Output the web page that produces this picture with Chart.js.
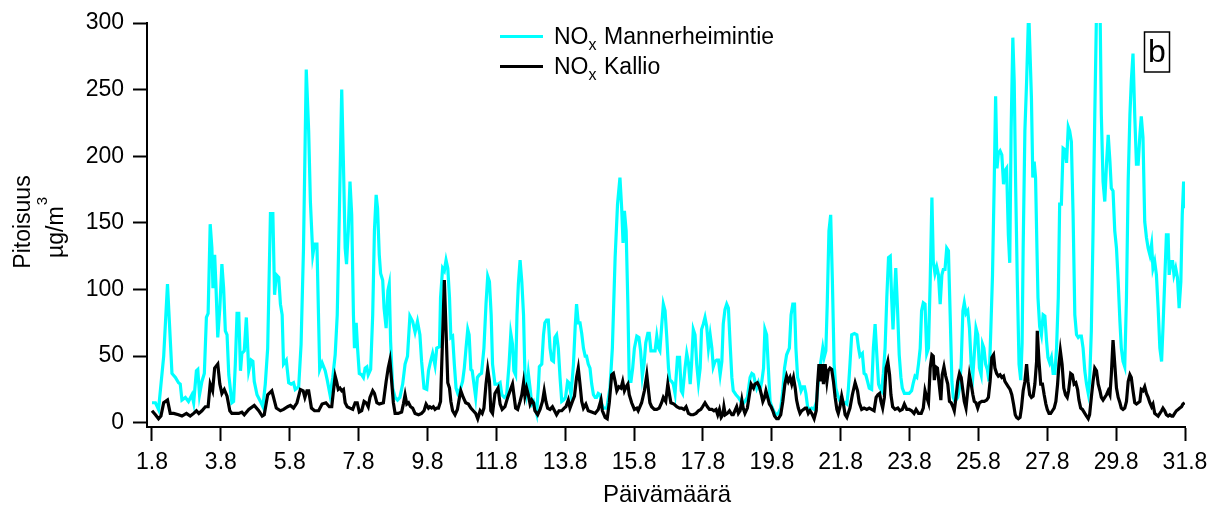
<!DOCTYPE html>
<html>
<head>
<meta charset="utf-8">
<title>NOx Mannerheimintie / Kallio</title>
<script src="https://cdn.jsdelivr.net/npm/chart.js@4.4.1/dist/chart.umd.min.js"></script>
<style>
  html, body { margin: 0; padding: 0; background: #fff; }
  canvas { display: block; }
</style>
</head>
<body>
<canvas id="noxChart" width="1216" height="507"></canvas>
<script>
// ticks
const tickDays = [1.8, 3.8, 5.8, 7.8, 9.8, 11.8, 13.8, 15.8, 17.8, 19.8, 21.8, 23.8, 25.8, 27.8, 29.8, 31.8];
const yTicks = [0, 50, 100, 150, 200, 250, 300];

const seriesNames = ['Mannerheimintie', 'Kallio'];
const xTitle = 'Päivämäärä';
const yTitle = 'Pitoisuus';
const yUnit = 'µg/m';
const panelLabel = 'b';

// [day, µg/m3]
const mannerheimintie = [
  [1.80,15],[1.90,15],[1.99,10],[2.14,50],[2.25,104],[2.38,37],[2.48,34],[2.57,30],[2.62,29],[2.67,17],[2.77,19],[2.86,16],[2.96,21],[3.01,15],[3.09,39],[3.13,40],[3.18,21],[3.25,31],[3.32,37],[3.38,79],[3.43,82],[3.49,149],[3.54,131],[3.57,101],[3.62,126],[3.66,101],[3.71,64],[3.77,86],[3.83,119],[3.88,101],[3.93,69],[3.98,66],[4.03,36],[4.12,15],[4.17,16],[4.22,44],[4.27,82],[4.32,82],[4.37,39],[4.41,52],[4.48,54],[4.54,79],[4.61,39],[4.68,47],[4.73,46],[4.77,31],[4.85,21],[4.95,16],[5.02,12],[5.09,29],[5.16,56],[5.24,157],[5.31,157],[5.36,96],[5.41,111],[5.48,109],[5.53,89],[5.58,81],[5.62,44],[5.70,47],[5.77,30],[5.84,29],[5.91,30],[5.96,25],[6.06,27],[6.13,59],[6.20,131],[6.28,265],[6.35,219],[6.40,166],[6.47,126],[6.52,134],[6.59,134],[6.62,99],[6.67,40],[6.74,45],
  [6.83,39],[6.89,32],[6.97,21],[7.05,34],[7.12,51],[7.18,81],[7.24,156],[7.31,250],[7.36,194],[7.41,131],[7.45,119],[7.50,144],[7.55,181],[7.60,156],[7.65,81],[7.68,56],[7.73,75],[7.77,56],[7.82,37],[7.89,36],[7.94,34],[7.99,41],[8.04,42],[8.08,36],[8.15,40],[8.21,81],[8.26,144],[8.31,171],[8.35,161],[8.40,126],[8.44,112],[8.50,107],[8.54,86],[8.60,71],[8.65,99],[8.69,104],[8.73,61],[8.79,26],[8.86,19],[8.93,17],[9.00,19],[9.08,29],[9.15,44],[9.22,50],[9.29,80],[9.37,76],[9.44,68],[9.51,76],[9.58,66],[9.63,46],[9.70,26],[9.78,25],[9.83,39],[9.89,46],[9.95,52],[10.02,43],[10.07,56],[10.15,57],[10.18,94],[10.24,116],[10.29,114],[10.34,122],[10.39,116],[10.44,94],[10.48,64],[10.53,65],[10.58,44],[10.63,26],[10.68,22],[10.75,25],[10.82,31],[10.87,41],[10.92,56],[10.97,70],[11.01,66],[11.06,40],[11.10,39],[11.15,29],[11.20,19],[11.25,34],[11.31,36],[11.37,37],[11.44,56],[11.50,89],[11.55,110],[11.60,106],[11.65,81],[11.69,44],[11.76,29],[11.86,29],
  [11.91,30],[11.96,21],[12.03,19],[12.10,21],[12.17,44],[12.22,67],[12.27,59],[12.31,39],[12.36,36],[12.40,81],[12.44,104],[12.49,122],[12.54,106],[12.59,81],[12.63,36],[12.68,24],[12.73,37],[12.78,26],[12.83,14],[12.88,16],[12.92,12],[12.97,7],[13.02,26],[13.05,42],[13.12,44],[13.17,66],[13.21,75],[13.26,77],[13.31,77],[13.36,56],[13.41,47],[13.46,46],[13.50,64],[13.55,66],[13.60,56],[13.65,34],[13.70,16],[13.75,17],[13.81,19],[13.87,31],[13.91,30],[13.97,21],[14.04,44],[14.09,72],[14.13,89],[14.18,75],[14.23,75],[14.28,67],[14.33,56],[14.38,50],[14.42,50],[14.47,44],[14.52,41],[14.57,29],[14.62,21],[14.67,19],[14.71,19],[14.76,22],[14.81,21],[14.86,14],[14.91,11],[15.01,11],[15.10,26],[15.17,56],[15.25,124],[15.32,164],[15.39,184],[15.44,161],[15.48,135],[15.52,159],[15.57,144],[15.62,89],[15.66,31],[15.71,31],[15.76,41],[15.81,56],[15.88,65],[15.94,64],[15.99,54],[16.04,35],[16.09,44],[16.14,60],[16.20,67],[16.24,67],[16.29,54],[16.34,54],[16.41,54],[16.46,65],[16.51,56],[16.55,54],[16.60,72],[16.65,89],[16.70,84],[16.75,64],[16.80,41],[16.84,32],[16.89,31],
  [16.94,29],[16.99,22],[17.06,49],[17.12,49],[17.17,24],[17.21,22],[17.28,41],[17.33,52],[17.38,45],[17.43,29],[17.47,44],[17.52,70],[17.57,66],[17.62,44],[17.67,30],[17.72,41],[17.76,70],[17.81,74],[17.86,79],[17.91,72],[17.96,56],[18.01,66],[18.06,56],[18.10,42],[18.15,46],[18.20,47],[18.25,47],[18.30,36],[18.35,46],[18.39,74],[18.44,85],[18.49,89],[18.54,86],[18.59,59],[18.64,34],[18.68,24],[18.76,21],[18.83,19],[18.90,16],[18.96,14],[19.02,16],[19.09,19],[19.17,34],[19.22,37],[19.27,36],[19.31,31],[19.36,26],[19.41,30],[19.46,25],[19.51,31],[19.56,41],[19.60,70],[19.65,66],[19.70,41],[19.75,16],[19.80,12],[19.85,9],[19.92,6],[19.99,7],[20.06,11],[20.12,24],[20.17,41],[20.23,51],[20.31,56],[20.36,81],[20.41,89],[20.46,89],[20.50,56],[20.55,34],[20.60,30],[20.65,24],[20.70,27],[20.75,27],[20.79,22],[20.84,12],[20.89,10],[20.96,11],[21.03,10],[21.10,16],[21.15,31],[21.22,45],[21.28,56],[21.32,49],[21.37,54],[21.41,89],[21.46,144],[21.51,156],[21.56,106],[21.61,44],[21.66,26],[21.71,21],[21.78,16],[21.86,14],[21.93,15],
  [21.98,14],[22.02,24],[22.07,44],[22.12,66],[22.20,67],[22.27,66],[22.32,56],[22.36,50],[22.43,52],[22.48,37],[22.53,36],[22.58,31],[22.63,26],[22.70,25],[22.75,56],[22.80,74],[22.85,51],[22.90,29],[22.94,26],[22.99,24],[23.04,37],[23.09,56],[23.14,94],[23.19,124],[23.24,125],[23.28,94],[23.32,70],[23.36,94],[23.40,116],[23.45,86],[23.50,51],[23.55,34],[23.59,26],[23.65,22],[23.72,22],[23.79,22],[23.86,24],[23.91,30],[23.96,35],[24.01,34],[24.06,44],[24.11,56],[24.15,84],[24.20,90],[24.25,89],[24.30,52],[24.35,56],[24.40,106],[24.45,169],[24.49,121],[24.54,112],[24.59,117],[24.64,111],[24.69,89],[24.74,111],[24.78,115],[24.83,115],[24.88,131],[24.93,129],[24.98,81],[25.03,31],[25.07,19],[25.12,16],[25.20,19],[25.25,26],[25.30,44],[25.35,84],[25.39,90],[25.44,82],[25.49,84],[25.54,71],[25.59,44],[25.64,36],[25.68,51],[25.73,71],[25.78,66],[25.83,41],[25.88,36],[25.92,59],[25.96,56],[26.01,44],[26.06,40],[26.11,31],[26.16,69],[26.21,111],[26.26,181],[26.30,245],[26.34,191],[26.38,202],[26.43,204],[26.48,201],[26.53,179],[26.57,189],[26.62,191],[26.67,141],[26.71,120],[26.75,219],[26.80,289],[26.84,256],[26.88,181],[26.93,106],[26.98,44],[27.03,32],
  [27.07,60],[27.10,131],[27.15,219],[27.20,256],[27.26,310],[27.34,244],[27.38,184],[27.42,196],[27.46,184],[27.50,131],[27.53,94],[27.58,72],[27.63,66],[27.68,81],[27.73,80],[27.78,61],[27.82,49],[27.87,45],[27.92,49],[27.97,37],[28.02,37],[28.07,56],[28.12,94],[28.16,164],[28.21,164],[28.26,206],[28.31,205],[28.36,195],[28.41,222],[28.45,219],[28.50,211],[28.55,156],[28.60,81],[28.65,66],[28.70,64],[28.74,65],[28.79,65],[28.84,56],[28.89,39],[28.94,29],[28.99,22],[29.03,31],[29.08,69],[29.13,144],[29.18,231],[29.25,340],[29.32,340],[29.37,231],[29.42,181],[29.47,166],[29.52,194],[29.57,216],[29.62,196],[29.66,176],[29.71,174],[29.76,144],[29.81,131],[29.86,106],[29.91,76],[29.95,56],[30.00,46],[30.05,42],[30.10,94],[30.15,181],[30.20,231],[30.24,256],[30.29,277],[30.34,231],[30.39,194],[30.44,194],[30.49,216],[30.53,230],[30.58,214],[30.63,151],[30.68,139],[30.73,131],[30.78,126],[30.83,134],[30.87,116],[30.92,121],[30.97,111],[31.02,86],[31.07,56],[31.12,46],[31.16,71],[31.21,106],[31.26,141],[31.31,141],[31.34,111],[31.39,121],[31.44,121],[31.48,111],[31.53,116],[31.58,109],[31.63,86],[31.68,106],[31.72,156],[31.76,181],[31.80,161]
];

const kallio = [
  [1.80,9],[1.90,6],[1.99,3],[2.06,5],[2.14,15],[2.25,17],[2.33,7],[2.43,7],[2.57,6],[2.67,5],[2.80,7],[2.91,5],[3.01,7],[3.09,9],[3.16,7],[3.25,9],[3.35,12],[3.43,12],[3.49,29],[3.56,24],[3.62,41],[3.71,44],[3.77,29],[3.83,22],[3.90,25],[3.98,20],[4.06,9],[4.12,7],[4.22,7],[4.32,7],[4.41,8],[4.48,6],[4.61,10],[4.77,13],[4.90,9],[5.00,5],[5.06,6],[5.16,21],[5.28,24],[5.33,19],[5.41,11],[5.53,9],[5.62,10],[5.74,12],[5.82,13],[5.91,11],[6.01,15],[6.11,25],[6.19,24],[6.24,19],[6.30,24],[6.35,24],[6.43,11],[6.52,9],[6.64,9],[6.74,14],
  [6.85,15],[6.95,12],[7.02,12],[7.07,24],[7.12,35],[7.16,31],[7.21,25],[7.26,26],[7.31,24],[7.36,25],[7.41,15],[7.47,12],[7.55,11],[7.63,10],[7.70,15],[7.76,15],[7.82,8],[7.89,9],[7.96,16],[8.02,15],[8.08,12],[8.13,19],[8.21,24],[8.26,22],[8.33,15],[8.40,14],[8.52,15],[8.60,31],[8.66,41],[8.71,47],[8.76,31],[8.81,15],[8.86,7],[8.95,7],[9.05,8],[9.10,14],[9.15,21],[9.20,14],[9.25,15],[9.31,12],[9.37,11],[9.44,7],[9.54,6],[9.63,7],[9.70,9],[9.76,14],[9.83,11],[9.87,12],[9.92,11],[9.97,12],[10.02,10],[10.07,11],[10.12,11],[10.18,16],[10.23,56],[10.29,107],[10.34,69],[10.39,30],[10.44,26],[10.48,16],[10.53,9],[10.60,6],[10.67,10],[10.73,19],[10.77,24],[10.84,19],[10.91,15],[10.99,14],[11.06,11],[11.13,9],[11.20,7],[11.26,3],[11.33,9],[11.39,7],[11.44,11],[11.50,29],[11.55,40],[11.60,31],[11.64,9],[11.69,7],[11.76,22],[11.85,26],
  [11.91,14],[11.97,10],[12.05,12],[12.13,19],[12.20,24],[12.27,29],[12.31,21],[12.36,11],[12.42,10],[12.49,16],[12.54,21],[12.59,30],[12.63,20],[12.68,26],[12.73,21],[12.78,14],[12.83,17],[12.88,15],[12.92,9],[13.00,6],[13.07,10],[13.14,16],[13.19,24],[13.24,16],[13.29,11],[13.36,10],[13.43,12],[13.49,9],[13.55,6],[13.62,9],[13.70,9],[13.77,11],[13.82,12],[13.89,17],[13.94,11],[14.01,16],[14.07,20],[14.13,34],[14.18,41],[14.23,29],[14.28,16],[14.33,11],[14.40,14],[14.47,9],[14.57,8],[14.67,7],[14.76,10],[14.84,17],[14.88,9],[14.96,4],[15.02,3],[15.08,15],[15.15,36],[15.20,37],[15.25,31],[15.30,24],[15.36,27],[15.42,26],[15.47,31],[15.52,24],[15.57,27],[15.62,29],[15.66,21],[15.73,15],[15.81,10],[15.88,11],[15.92,9],[16.02,15],[16.10,24],[16.17,36],[16.22,24],[16.26,15],[16.31,12],[16.39,10],[16.46,10],[16.53,11],[16.60,15],[16.65,19],[16.72,16],[16.78,29],[16.83,21],[16.87,15],
  [16.96,14],[17.04,12],[17.12,11],[17.18,11],[17.25,10],[17.31,12],[17.38,7],[17.45,6],[17.52,6],[17.60,7],[17.67,9],[17.74,10],[17.79,12],[17.86,15],[17.93,12],[17.99,10],[18.06,10],[18.12,9],[18.18,10],[18.23,6],[18.28,10],[18.33,4],[18.38,6],[18.41,12],[18.45,6],[18.51,7],[18.57,9],[18.64,6],[18.68,6],[18.73,9],[18.78,12],[18.83,7],[18.88,9],[18.93,17],[18.97,11],[19.02,7],[19.09,11],[19.15,21],[19.20,29],[19.27,26],[19.31,29],[19.38,30],[19.44,27],[19.49,22],[19.54,16],[19.59,19],[19.63,24],[19.68,19],[19.73,14],[19.78,12],[19.83,9],[19.88,5],[19.94,3],[19.99,3],[20.06,6],[20.12,16],[20.18,29],[20.23,35],[20.28,31],[20.33,34],[20.38,29],[20.43,34],[20.48,26],[20.52,17],[20.57,11],[20.62,7],[20.67,9],[20.72,10],[20.77,11],[20.81,11],[20.86,7],[20.91,9],[20.96,7],[21.03,3],[21.09,9],[21.13,29],[21.17,44],[21.22,31],[21.26,44],[21.30,29],[21.35,44],[21.40,31],[21.44,39],[21.49,41],[21.54,40],[21.59,31],[21.64,19],[21.69,10],[21.73,7],[21.78,12],[21.83,20],[21.88,14],[21.93,6],[21.98,4],
  [22.07,11],[22.14,21],[22.22,30],[22.29,24],[22.34,15],[22.41,10],[22.48,11],[22.56,10],[22.63,11],[22.70,10],[22.77,9],[22.83,19],[22.88,21],[22.93,22],[22.97,16],[23.02,11],[23.07,19],[23.12,41],[23.17,46],[23.22,36],[23.26,21],[23.31,12],[23.38,10],[23.46,11],[23.52,9],[23.59,10],[23.65,14],[23.72,10],[23.79,10],[23.86,9],[23.93,7],[23.99,10],[24.06,7],[24.14,7],[24.20,11],[24.25,24],[24.30,19],[24.35,15],[24.40,41],[24.45,51],[24.49,50],[24.52,32],[24.56,42],[24.61,41],[24.66,29],[24.71,17],[24.75,36],[24.80,42],[24.85,35],[24.91,29],[24.96,16],[25.01,15],[25.06,12],[25.10,9],[25.15,19],[25.20,31],[25.25,37],[25.30,34],[25.35,24],[25.39,16],[25.44,11],[25.49,24],[25.54,36],[25.59,29],[25.64,21],[25.68,16],[25.73,15],[25.78,11],[25.83,15],[25.90,16],[25.97,16],[26.04,17],[26.09,19],[26.14,31],[26.19,49],[26.24,51],[26.28,41],[26.33,37],[26.38,35],[26.43,36],[26.48,34],[26.53,35],[26.57,31],[26.62,29],[26.67,27],[26.72,25],[26.77,21],[26.82,14],[26.87,6],[26.91,4],[26.96,3],[27.01,4],
  [27.05,11],[27.10,24],[27.15,31],[27.20,44],[27.24,31],[27.29,21],[27.34,19],[27.39,20],[27.44,29],[27.49,46],[27.51,69],[27.56,46],[27.61,29],[27.66,29],[27.71,21],[27.76,14],[27.80,10],[27.85,7],[27.90,7],[27.95,9],[28.00,11],[28.05,16],[28.10,29],[28.14,44],[28.18,54],[28.23,44],[28.28,26],[28.33,21],[28.38,19],[28.42,24],[28.48,37],[28.53,36],[28.58,29],[28.63,30],[28.68,25],[28.72,17],[28.77,11],[28.82,10],[28.89,7],[28.94,5],[28.99,3],[29.03,6],[29.08,19],[29.13,31],[29.18,41],[29.23,39],[29.28,29],[29.33,24],[29.37,19],[29.42,17],[29.47,19],[29.52,21],[29.57,24],[29.62,21],[29.66,36],[29.71,62],[29.76,44],[29.81,26],[29.86,19],[29.91,15],[29.95,11],[30.00,10],[30.05,11],[30.10,16],[30.15,31],[30.20,36],[30.24,34],[30.29,24],[30.34,15],[30.39,14],[30.44,15],[30.49,16],[30.53,25],[30.58,24],[30.63,27],[30.68,22],[30.73,19],[30.78,15],[30.83,12],[30.87,14],[30.92,7],[30.97,6],[31.02,5],[31.07,7],[31.12,9],[31.16,11],[31.21,9],[31.26,6],[31.31,5],[31.36,6],[31.41,5],[31.45,5],[31.50,7],[31.55,9],[31.60,10],[31.65,11],[31.70,12],[31.74,14],[31.79,15]
];

const FONT = "'Liberation Sans', Arial, sans-serif";
const CYAN = '#00ffff';
const BLACK = '#000000';

// legend, axis titles and the "b" box
const annotations = {
  id: 'annotations',
  afterDraw(chart) {
    const ctx = chart.ctx;
    ctx.save();
    ctx.fillStyle = '#000';
    ctx.textBaseline = 'alphabetic';

    // legend
    const colors = [CYAN, BLACK];
    seriesNames.forEach((name, i) => {
      const base = 44 + i * 30;
      ctx.strokeStyle = colors[i];
      ctx.lineWidth = 3;
      ctx.beginPath();
      ctx.moveTo(500, base - 7.5);
      ctx.lineTo(543, base - 7.5);
      ctx.stroke();

      ctx.textAlign = 'left';
      ctx.font = '23px ' + FONT;
      ctx.fillText('NO', 554, base);
      const w = ctx.measureText('NO').width;
      ctx.font = '16px ' + FONT;
      ctx.fillText('x', 554 + w, base + 6);
      ctx.font = '23px ' + FONT;
      ctx.fillText(name, 604, base);
    });

    // panel label
    ctx.strokeStyle = '#000';
    ctx.lineWidth = 1.5;
    ctx.strokeRect(1144.5, 32, 25, 40);
    ctx.font = '32px ' + FONT;
    ctx.textAlign = 'center';
    ctx.fillText(panelLabel, 1157, 62);

    // x title
    ctx.font = '24px ' + FONT;
    ctx.fillText(xTitle, 667, 502);

    // y title, two lines
    ctx.save();
    ctx.translate(29.5, 222);
    ctx.rotate(-Math.PI / 2);
    ctx.textAlign = 'center';
    ctx.font = '23px ' + FONT;
    ctx.fillText(yTitle, 0, 0);
    ctx.restore();

    ctx.save();
    ctx.translate(63, 228);
    ctx.rotate(-Math.PI / 2);
    ctx.textAlign = 'left';
    ctx.font = '23px ' + FONT;
    const w1 = ctx.measureText(yUnit).width;
    ctx.font = '15px ' + FONT;
    const w2 = ctx.measureText('3').width;
    const x0 = -(w1 + w2) / 2;
    ctx.font = '23px ' + FONT;
    ctx.fillText(yUnit, x0, 0);
    ctx.font = '15px ' + FONT;
    ctx.fillText('3', x0 + w1 + 1, -16);
    ctx.restore();

    ctx.restore();
  }
};

const ctx = document.getElementById('noxChart').getContext('2d');
new Chart(ctx, {
  type: 'line',
  data: {
    datasets: [
      {
        label: 'NOx Kallio',
        data: kallio,
        borderColor: BLACK,
        borderWidth: 3.2,
        pointRadius: 0,
        tension: 0,
        fill: false,
        clip: 0,
        order: 0
      },
      {
        label: 'NOx Mannerheimintie',
        data: mannerheimintie,
        borderColor: CYAN,
        borderWidth: 3.2,
        pointRadius: 0,
        tension: 0,
        fill: false,
        clip: 0,
        order: 1
      }
    ]
  },
  options: {
    responsive: false,
    animation: false,
    devicePixelRatio: 1,
    layout: { padding: { top: 23, right: 31, left: 0, bottom: 0 } },
    plugins: {
      legend: { display: false },
      tooltip: { enabled: false }
    },
    scales: {
      x: {
        type: 'linear',
        min: 1.655,
        max: 31.8,
        afterBuildTicks: scale => { scale.ticks = tickDays.map(v => ({ value: v })); },
        afterFit: scale => { scale.height = 80; },
        grid: { drawOnChartArea: false, drawTicks: true, tickLength: 14, tickWidth: 2, tickColor: '#000' },
        border: { display: true, color: '#000', width: 2 },
        ticks: {
          color: '#000',
          font: { family: FONT, size: 23 },
          padding: 8,
          maxRotation: 0,
          autoSkip: false,
          callback: v => v.toFixed(1)
        }
      },
      y: {
        min: -3.2,
        max: 300,
        afterBuildTicks: scale => { scale.ticks = yTicks.map(v => ({ value: v })); },
        afterFit: scale => { scale.width = 147; },
        grid: { drawOnChartArea: false, drawTicks: true, tickLength: 14, tickWidth: 2, tickColor: '#000' },
        border: { display: true, color: '#000', width: 2 },
        ticks: {
          color: '#000',
          font: { family: FONT, size: 23 },
          padding: 9,
          callback: v => String(v)
        }
      }
    }
  },
  plugins: [annotations]
});
</script>
</body>
</html>
